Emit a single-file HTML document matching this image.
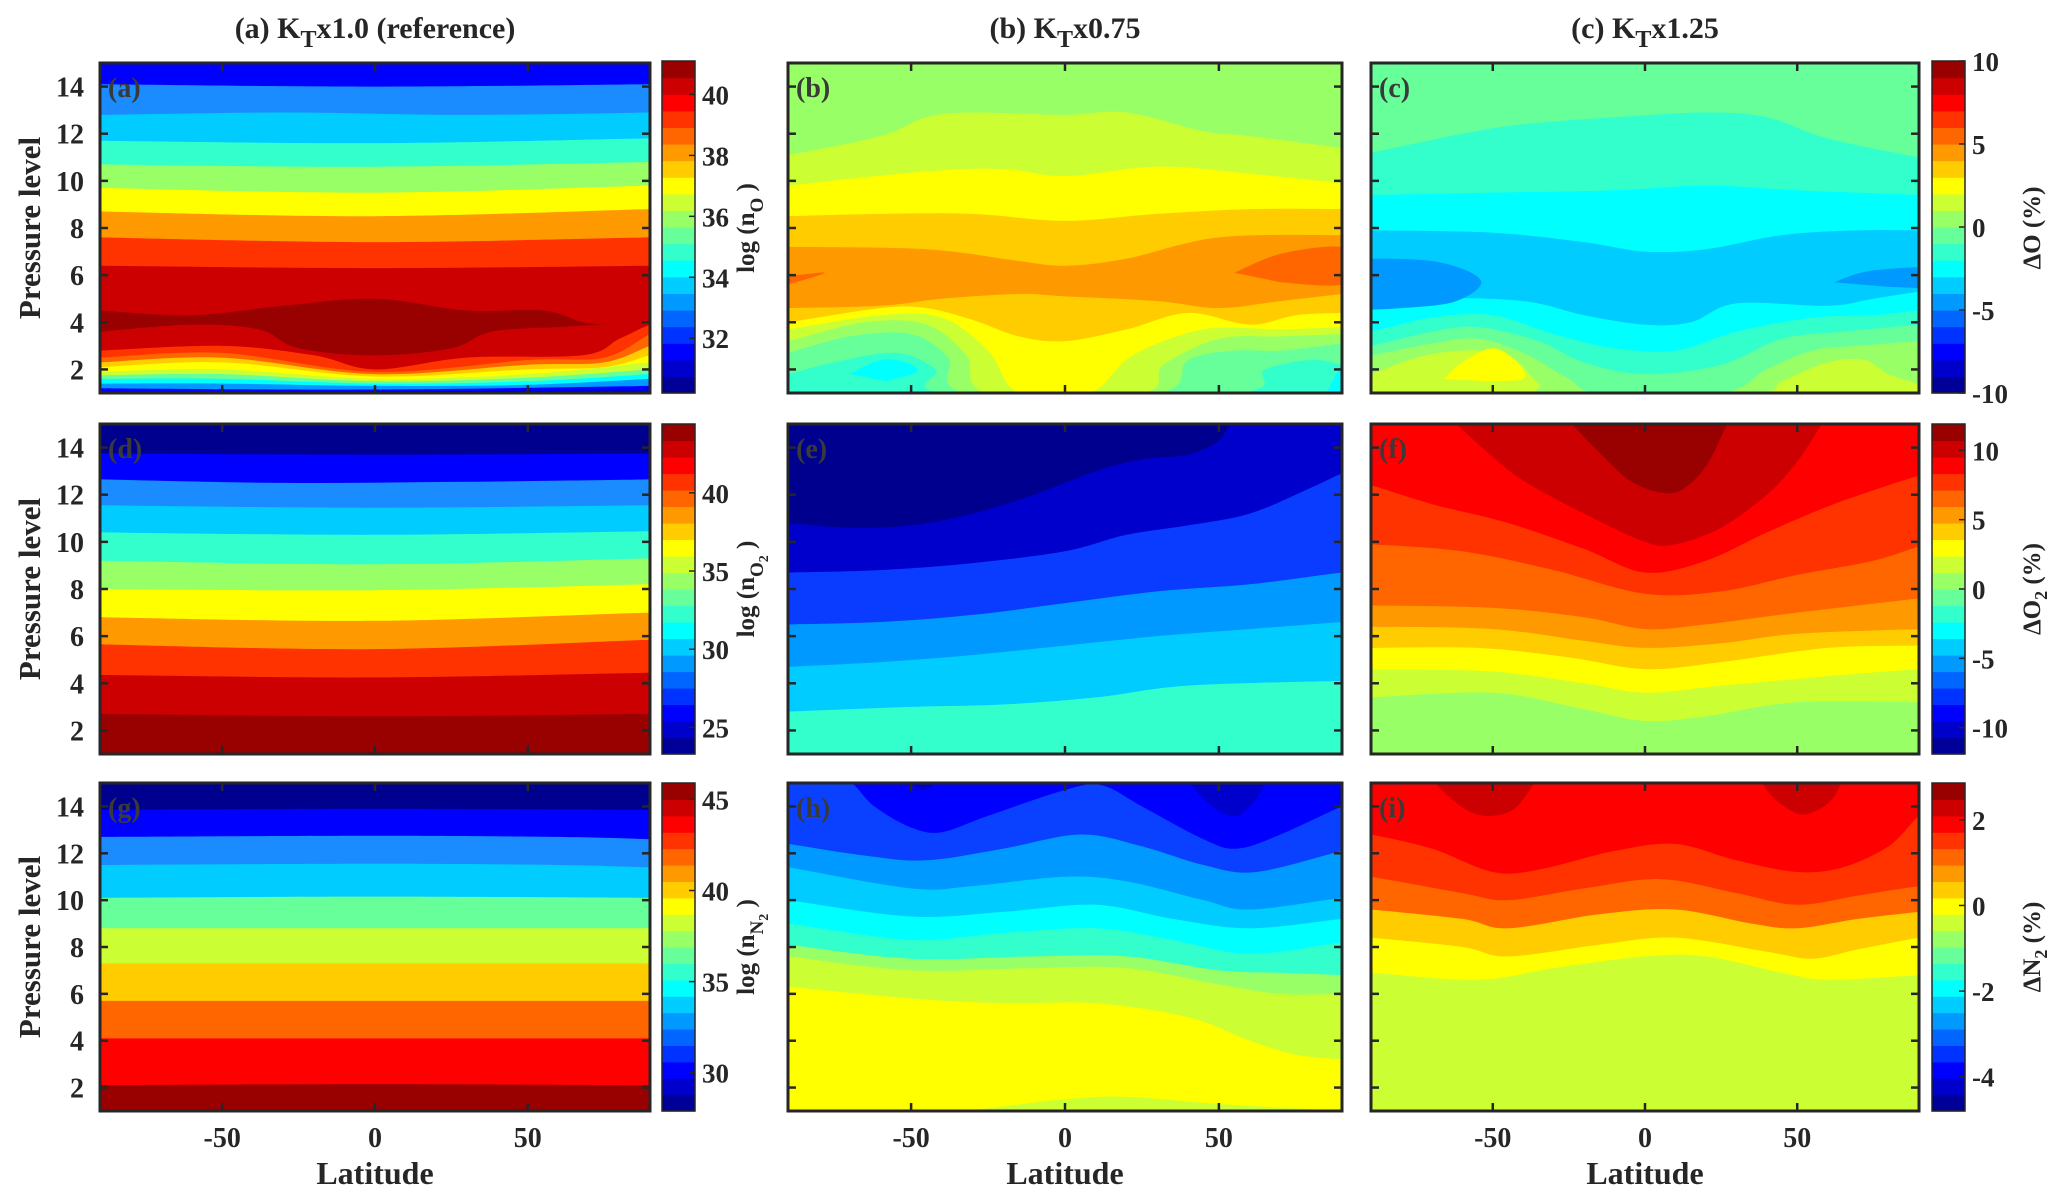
<!DOCTYPE html>
<html><head><meta charset="utf-8"><style>
html,body{margin:0;padding:0;background:#fff;}
svg{display:block;}
text{font-family:"Liberation Serif",serif;font-weight:bold;fill:#262626;}
</style></head><body>
<svg id="s" width="2067" height="1202" viewBox="0 0 2067 1202" xmlns="http://www.w3.org/2000/svg">
<defs id="defs"></defs>
<g id="plots"></g>
<g id="txt">
<text x="375" y="38" font-size="30" text-anchor="middle">(a) K<tspan dy="9" font-size="24">T</tspan><tspan dy="-9">x1.0 (reference)</tspan></text>
<text x="1065" y="38" font-size="30" text-anchor="middle">(b) K<tspan dy="9" font-size="24">T</tspan><tspan dy="-9">x0.75</tspan></text>
<text x="1645" y="38" font-size="30" text-anchor="middle">(c) K<tspan dy="9" font-size="24">T</tspan><tspan dy="-9">x1.25</tspan></text>
<text transform="translate(40,228) rotate(-90)" font-size="31" text-anchor="middle">Pressure level</text>
<text transform="translate(40,589) rotate(-90)" font-size="31" text-anchor="middle">Pressure level</text>
<text transform="translate(40,947) rotate(-90)" font-size="31" text-anchor="middle">Pressure level</text>
<text x="375" y="1184" font-size="32" text-anchor="middle">Latitude</text>
<text x="1065" y="1184" font-size="32" text-anchor="middle">Latitude</text>
<text x="1645" y="1184" font-size="32" text-anchor="middle">Latitude</text>
<text transform="translate(754,228) rotate(-90)" font-size="25" text-anchor="middle">log (n<tspan dy="9" font-size="19">O</tspan><tspan dy="-9"> )</tspan></text>
<text transform="translate(754,589) rotate(-90)" font-size="25" text-anchor="middle">log (n<tspan dy="9" font-size="19">O</tspan><tspan dy="5" font-size="14">2</tspan><tspan dy="-14"> )</tspan></text>
<text transform="translate(754,947) rotate(-90)" font-size="25" text-anchor="middle">log (n<tspan dy="9" font-size="19">N</tspan><tspan dy="5" font-size="14">2</tspan><tspan dy="-14"> )</tspan></text>
<text transform="translate(2040,228) rotate(-90)" font-size="25" text-anchor="middle">ΔO (%)</text>
<text transform="translate(2040,589) rotate(-90)" font-size="25" text-anchor="middle">ΔO<tspan dy="7" font-size="18">2</tspan><tspan dy="-7"> (%)</tspan></text>
<text transform="translate(2040,947) rotate(-90)" font-size="25" text-anchor="middle">ΔN<tspan dy="7" font-size="18">2</tspan><tspan dy="-7"> (%)</tspan></text>
</g>
</svg>
<script>
(function(){
var NS="http://www.w3.org/2000/svg";
var plots=document.getElementById('plots'),defs=document.getElementById('defs');
function el(n,a,p){var e=document.createElementNS(NS,n);for(var k in a)e.setAttribute(k,a[k]);(p||plots).appendChild(e);return e;}
var cols=[[100,650],[788,1342],[1371,1919]],rows=[[63,393],[424,754],[783,1111]];
function cr(pts){var d='M'+pts[0][0].toFixed(1)+','+pts[0][1].toFixed(1);
 for(var i=0;i<pts.length-1;i++){var p0=pts[i-1]||pts[i],p1=pts[i],p2=pts[i+1],p3=pts[i+2]||p2;
 d+=' C'+(p1[0]+(p2[0]-p0[0])/6).toFixed(1)+','+(p1[1]+(p2[1]-p0[1])/6).toFixed(1)+' '+(p2[0]-(p3[0]-p1[0])/6).toFixed(1)+','+(p2[1]-(p3[1]-p1[1])/6).toFixed(1)+' '+p2[0].toFixed(1)+','+p2[1].toFixed(1);}
 return d;}
var pid=0;
function panel(c,r,top,layers,blobs,label){
 var x0=cols[c][0],x1=cols[c][1],y0=rows[r][0],y1=rows[r][1];
 function X(l){return x0+(l+90)/180*(x1-x0);} function Y(p){return y1-(p-1)/14*(y1-y0);}
 var id='cp'+(pid++);var cp=el('clipPath',{id:id},defs);el('rect',{x:x0,y:y0,width:x1-x0,height:y1-y0},cp);
 var g=el('g',{'clip-path':'url(#'+id+')'});
 el('rect',{x:x0,y:y0,width:x1-x0,height:y1-y0,fill:top},g);
 layers.forEach(function(L){var pts=L[1].map(function(q){return [X(q[0]),Y(q[1])];});
  pts.unshift([x0-10,pts[0][1]]);pts.push([x1+10,pts[pts.length-1][1]]);
  el('path',{d:cr(pts)+' L'+(x1+10)+','+(y1+10)+' L'+(x0-10)+','+(y1+10)+' Z',fill:L[0]},g);});
 (blobs||[]).forEach(function(B){var pts=B[1].map(function(q){return [X(q[0]),Y(q[1])];});
  el('path',{d:cr(pts)+' Z',fill:B[0]},g);});
 el('rect',{x:x0,y:y0,width:x1-x0,height:y1-y0,fill:'none',stroke:'#262626','stroke-width':3});
 [-50,0,50].forEach(function(l){el('line',{x1:X(l),x2:X(l),y1:y0,y2:y0+8,stroke:'#262626','stroke-width':2.5});el('line',{x1:X(l),x2:X(l),y1:y1,y2:y1-8,stroke:'#262626','stroke-width':2.5});
  if(r==2){var t=el('text',{x:X(l),y:1147,'font-size':28,'text-anchor':'middle'});t.textContent=l==-50?'-50':String(l);}});
 for(var p=2;p<=14;p+=2){el('line',{x1:x0,x2:x0+8,y1:Y(p),y2:Y(p),stroke:'#262626','stroke-width':2.5});el('line',{x1:x1,x2:x1-8,y1:Y(p),y2:Y(p),stroke:'#262626','stroke-width':2.5});
  if(c==0){var t=el('text',{x:84,y:Y(p)+10,'font-size':28,'text-anchor':'end'});t.textContent=p;}}
 var t=el('text',{x:x0+8,y:y0+34,'font-size':28,style:'fill:#3a3a3a'});t.textContent=label;
}
function jet(t){function cl(v){return Math.max(0,Math.min(1,v));}
 return 'rgb('+Math.round(255*cl(1.5-Math.abs(4*t-3)))+','+Math.round(255*cl(1.5-Math.abs(4*t-2)))+','+Math.round(255*cl(1.5-Math.abs(4*t-1)))+')';}
function cbar(x,y0,y1,vmin,vmax,ticks){var n=20,h=(y1-y0)/n;
 for(var i=0;i<n;i++)el('rect',{x:x,y:y1-(i+1)*h,width:33,height:h+0.6,fill:jet((i+0.5)/n)});
 el('rect',{x:x,y:y0,width:33,height:y1-y0,fill:'none',stroke:'#262626','stroke-width':1.5});
 ticks.forEach(function(v){var y=y1-(v-vmin)/(vmax-vmin)*(y1-y0);el('line',{x1:x+27,x2:x+33,y1:y,y2:y,stroke:'#262626','stroke-width':1.5});
  var t=el('text',{x:x+40,y:y+10,'font-size':27});t.textContent=v;});}
panel(0,0,'#0000ff',[
['#1a8cff',[[-90,14.1],[0,14.0],[90,14.1]]],
['#00ccff',[[-90,12.8],[-30,12.9],[30,12.8],[90,12.9]]],
['#33ffcc',[[-90,11.7],[0,11.6],[90,11.8]]],
['#99ff66',[[-90,10.7],[0,10.6],[90,10.8]]],
['#ffff00',[[-90,9.7],[0,9.5],[90,9.8]]],
['#ff9900',[[-90,8.7],[0,8.5],[90,8.8]]],
['#ff3300',[[-90,7.6],[0,7.4],[90,7.6]]],
['#cc0000',[[-90,6.4],[0,6.3],[90,6.4]]],
['#990000',[[-90,4.5],[-60,4.3],[-30,4.7],[0,5.0],[30,4.5],[55,4.5],[68,4.0],[76,3.9],[90,3.9]]],
['#cc0000',[[-90,3.6],[-60,3.9],[-38,3.7],[-25,2.9],[0,2.6],[25,2.9],[38,3.6],[60,3.8],[76,3.9],[90,3.9]]],
['#ff3300',[[-90,2.8],[-50,3.0],[-20,2.6],[0,2.0],[30,2.5],[68,2.6],[80,3.3],[90,3.9]]],
['#ff6600',[[-90,2.5],[-50,2.7],[0,1.9],[50,2.4],[75,2.5],[90,3.5]]],
['#ffcc00',[[-90,2.3],[-50,2.5],[0,1.8],[50,2.2],[75,2.3],[90,3.0]]],
['#ffff00',[[-90,2.1],[-50,2.3],[0,1.7],[50,2.0],[75,2.1],[90,2.6]]],
['#ccff33',[[-90,1.9],[-50,2.0],[0,1.6],[50,1.8],[90,2.3]]],
['#66ff99',[[-90,1.75],[-50,1.8],[0,1.5],[50,1.65],[90,2.0]]],
['#00ffff',[[-90,1.6],[-50,1.6],[0,1.4],[50,1.5],[90,1.8]]],
['#0099ff',[[-90,1.4],[-50,1.4],[0,1.3],[50,1.35],[90,1.6]]],
['#0000ff',[[-90,1.2],[0,1.15],[90,1.3]]],
['#00008f',[[-90,1.05],[90,1.1]]]
],null,'(a)');
panel(1,0,'#99ff66',[
['#ccff33',[[-90,11.1],[-60,11.9],[-45,12.7],[-30,12.9],[0,12.8],[20,12.9],[45,12.1],[60,11.9],[90,11.4]]],
['#ffff00',[[-90,9.8],[-45,10.4],[-20,10.5],[0,10.2],[30,10.6],[60,10.3],[90,9.9]]],
['#ffcc00',[[-90,8.5],[-60,8.6],[-30,8.6],[0,8.3],[30,8.6],[60,8.8],[90,8.8]]],
['#ff9900',[[-90,7.2],[-45,7.1],[-15,6.6],[0,6.4],[20,6.7],[50,7.6],[90,7.7]]],
['#ffcc00',[[-90,4.6],[-60,4.7],[-40,5.0],[-15,5.2],[0,5.1],[30,4.9],[50,4.6],[70,4.9],[90,5.2]]],
['#ffff00',[[-90,4.0],[-60,4.6],[-45,4.6],[-30,4.1],[-15,3.4],[0,3.2],[20,3.7],[40,4.4],[60,3.9],[75,4.3],[90,4.4]]],
['#ccff33',[[-90,3.7],[-60,4.3],[-40,4.2],[-25,2.8],[-15,1.0],[8,1.0],[22,2.6],[45,3.7],[70,3.7],[90,3.8]]],
['#99ff66',[[-90,3.2],[-65,4.0],[-45,3.9],[-32,2.6],[-25,1.0],[25,1.0],[32,2.2],[50,3.3],[70,3.4],[90,3.5]]],
['#66ff99',[[-90,2.7],[-70,3.4],[-50,3.5],[-38,2.5],[-32,1.0],[30,1.0],[40,2.4],[55,2.8],[70,2.8],[90,3.1]]],
['#33ffcc',[[-90,1.8],[-75,2.3],[-55,2.7],[-42,2.0],[-38,1.0],[55,1.0],[65,2.0],[80,2.4],[90,2.2]]]
],[
['#ff6600',[[55,6.1],[70,6.9],[90,7.2],[100,6.5],[90,5.6],[70,5.7]]],
['#ff6600',[[-100,6.3],[-90,6.0],[-78,6.1],[-90,5.6]]],
['#00ffff',[[-70,1.8],[-60,2.4],[-52,2.3],[-48,1.9],[-58,1.5]]],
['#00ffff',[[85,1.0],[92,2.5],[95,1.0]]]
],'(b)');
panel(2,0,'#66ff99',[
['#33ffcc',[[-90,11.2],[-60,12.0],[-40,12.4],[-10,12.7],[20,12.9],[40,12.7],[60,11.8],[90,11.0]]],
['#00ffff',[[-90,9.4],[-50,9.5],[-10,9.6],[20,9.8],[50,9.6],[90,9.4]]],
['#00ccff',[[-90,7.9],[-50,7.8],[-20,7.4],[0,7.0],[20,7.1],[45,7.7],[70,7.9],[90,7.9]]],
['#00ffff',[[-90,4.6],[-70,5.0],[-40,4.9],[-20,4.3],[0,3.9],[15,4.0],[30,4.8],[60,4.7],[75,5.0],[90,5.3]]],
['#33ffcc',[[-90,3.6],[-70,4.2],[-50,4.3],[-30,3.5],[-10,2.9],[10,2.8],[30,3.6],[55,4.2],[75,4.3],[90,4.5]]],
['#66ff99',[[-90,3.0],[-70,3.6],[-55,3.8],[-35,3.2],[-20,2.3],[0,1.8],[25,2.2],[45,3.3],[65,3.6],[90,3.9]]],
['#99ff66',[[-90,2.6],[-70,3.1],[-55,3.3],[-40,2.7],[-25,1.6],[-15,1.0],[25,1.0],[40,2.0],[55,2.8],[70,3.0],[90,3.2]]],
['#ccff33',[[-90,1.8],[-75,2.5],[-60,2.8],[-45,2.6],[-35,1.4],[-30,1.0],[35,1.0],[45,1.5],[60,2.3],[72,2.4],[80,1.8],[90,1.4]]]
],[
['#0099ff',[[-100,6.7],[-70,6.6],[-54,5.8],[-62,4.9],[-80,4.6],[-100,4.5]]],
['#0099ff',[[62,5.7],[75,6.2],[100,6.3],[100,5.5],[80,5.5]]],
['#ffff00',[[-66,1.6],[-60,2.3],[-50,2.9],[-42,2.3],[-40,1.6],[-52,1.5]]]
],'(c)');
panel(0,1,'#00008f',[
['#0000ff',[[-90,13.75],[0,13.7],[90,13.75]]],
['#1a8cff',[[-90,12.65],[-30,12.5],[30,12.55],[90,12.65]]],
['#00ccff',[[-90,11.55],[0,11.45],[90,11.55]]],
['#33ffcc',[[-90,10.4],[0,10.3],[90,10.45]]],
['#99ff66',[[-90,9.2],[0,9.05],[90,9.3]]],
['#ffff00',[[-90,8.0],[0,7.95],[90,8.2]]],
['#ff9900',[[-90,6.8],[0,6.65],[90,7.0]]],
['#ff3300',[[-90,5.65],[0,5.45],[90,5.85]]],
['#cc0000',[[-90,4.35],[0,4.25],[90,4.45]]],
['#990000',[[-90,2.7],[0,2.6],[90,2.7]]]
],null,'(d)');
panel(1,1,'#00008f',[
['#0000cc',[[-90,10.8],[-70,10.6],[-50,10.7],[-30,11.2],[-10,12.0],[10,13.0],[25,13.5],[40,13.7],[50,14.3],[56,15.3],[70,15.6],[90,15.6]]],
['#0a3cff',[[-90,8.7],[-60,8.8],[-30,9.1],[0,9.6],[20,10.3],[40,10.7],[60,11.2],[80,12.3],[90,12.9]]],
['#0099ff',[[-90,6.5],[-60,6.6],[-30,6.9],[0,7.4],[30,7.9],[60,8.2],[90,8.7]]],
['#00ccff',[[-90,4.7],[-60,4.9],[-30,5.2],[0,5.6],[30,6.0],[60,6.3],[90,6.6]]],
['#33ffcc',[[-90,2.8],[-50,3.0],[-20,3.1],[10,3.4],[40,3.9],[90,4.1]]]
],null,'(e)');
panel(2,1,'#ff0000',[
['#ff3300',[[-90,12.4],[-70,11.6],[-45,10.8],[-20,9.7],[0,8.7],[20,9.2],[40,10.4],[60,11.5],[80,12.4],[90,12.8]]],
['#ff6600',[[-90,9.9],[-60,9.6],[-30,8.8],[0,7.8],[25,7.9],[50,8.6],[75,9.2],[90,9.8]]],
['#ff9900',[[-90,7.3],[-50,7.2],[-20,6.8],[0,6.3],[20,6.5],[50,7.0],[90,7.6]]],
['#ffcc00',[[-90,6.4],[-50,6.3],[-20,5.8],[0,5.5],[25,5.7],[50,6.1],[90,6.3]]],
['#ffff00',[[-90,5.5],[-55,5.5],[-25,5.1],[0,4.6],[25,4.9],[60,5.5],[90,5.6]]],
['#ccff33',[[-90,4.6],[-50,4.5],[-20,4.0],[0,3.6],[25,3.9],[60,4.3],[90,4.6]]],
['#99ff66',[[-90,3.4],[-50,3.6],[-20,2.9],[0,2.4],[20,2.6],[50,3.2],[90,3.2]]]
],[
['#cc0000',[[-66,15.5],[-62,15],[-50,13.6],[-40,12.6],[-20,11.2],[0,10.0],[10,9.9],[25,10.6],[40,12.0],[50,13.4],[58,15],[60,15.5]]],
['#990000',[[-27,15.5],[-24,15],[-15,13.8],[-5,12.6],[5,12.1],[12,12.2],[20,13.2],[27,15],[29,15.5]]]
],'(f)');
panel(0,2,'#00008f',[
['#0000ff',[[-90,13.85],[0,13.9],[90,13.85]]],
['#1a8cff',[[-90,12.7],[0,12.75],[60,12.7],[90,12.6]]],
['#00ccff',[[-90,11.5],[0,11.55],[60,11.5],[90,11.4]]],
['#66ff99',[[-90,10.1],[0,10.15],[90,10.1]]],
['#ccff33',[[-90,8.8],[90,8.8]]],
['#ffcc00',[[-90,7.3],[90,7.3]]],
['#ff6600',[[-90,5.7],[90,5.7]]],
['#ff0000',[[-90,4.1],[90,4.1]]],
['#990000',[[-90,2.1],[0,2.15],[90,2.1]]]
],null,'(g)');
panel(1,2,'#0000ff',[
['#0a40ff',[[-90,15.3],[-72,15.2],[-62,14.0],[-50,13.1],[-40,12.9],[-25,13.6],[0,14.7],[12,14.9],[25,14.0],[45,12.6],[56,12.2],[70,12.8],[90,14.0]]],
['#0099ff',[[-90,12.4],[-65,11.9],[-45,11.7],[-20,12.2],[5,12.8],[25,12.3],[45,11.5],[62,11.2],[90,12.1]]],
['#00ccff',[[-90,11.4],[-50,10.5],[-30,10.6],[0,11.0],[20,10.8],[45,10.0],[60,9.6],[90,10.1]]],
['#00ffff',[[-90,10.0],[-50,9.3],[-20,9.5],[10,9.8],[35,9.2],[60,8.8],[90,9.2]]],
['#33ffcc',[[-90,9.0],[-50,8.3],[-20,8.6],[10,8.8],[35,8.3],[60,7.7],[90,8.2]]],
['#99ff66',[[-90,8.1],[-50,7.5],[-10,7.6],[20,7.6],[50,7.0],[70,6.9],[90,6.8]]],
['#ccff33',[[-90,7.6],[-50,7.0],[-10,7.1],[20,7.1],[50,6.4],[70,6.0],[90,6.0]]],
['#ffff00',[[-90,6.3],[-50,5.8],[-20,5.6],[10,5.6],[40,5.0],[60,4.0],[75,3.4],[90,3.2]]],
['#ccff33',[[-90,0.9],[-50,0.9],[-30,1.05],[0,1.5],[20,1.6],[50,1.3],[90,1.0]]]
],[
['#0000cc',[[38,15.5],[43,14.6],[50,13.8],[56,13.6],[62,14.3],[67,15.5]]],
['#0000cc',[[-52,15.5],[-48,14.8],[-44,14.8],[-40,15.5]]]
],'(h)');
panel(2,2,'#ff0000',[
['#ff3300',[[-90,12.8],[-70,12.2],[-50,11.2],[-35,11.3],[-10,12.1],[10,12.4],[30,11.7],[50,11.2],[65,11.4],[80,12.3],[90,13.6]]],
['#ff6600',[[-90,11.0],[-60,10.3],[-45,10.0],[-20,10.5],[5,10.9],[30,10.3],[50,9.8],[70,10.2],[90,10.6]]],
['#ffcc00',[[-90,9.6],[-60,9.2],[-45,8.8],[-15,9.4],[10,9.6],[35,9.0],[50,8.8],[70,9.2],[90,9.5]]],
['#ffff00',[[-90,8.4],[-60,8.0],[-45,7.6],[-15,8.1],[10,8.4],[40,7.8],[55,7.5],[70,7.9],[90,8.4]]],
['#ccff33',[[-90,6.9],[-55,6.6],[-30,7.1],[0,7.6],[20,7.6],[45,6.9],[60,6.6],[90,6.8]]]
],[
['#cc0000',[[-72,15.5],[-66,14.6],[-58,13.8],[-50,13.6],[-42,14.0],[-34,15.5]]],
['#cc0000',[[36,15.5],[42,14.4],[50,13.7],[56,13.8],[62,14.4],[66,15.5]]]
],'(i)');
cbar(662,61,393,30.2,41.1,[32,34,36,38,40]);
cbar(1932,61,393,-10,10,[-10,-5,0,5,10]);
cbar(662,424,754,23.3,44.4,[25,30,35,40]);
cbar(1932,424,754,-11.9,11.9,[-10,-5,0,5,10]);
cbar(662,783,1111,27.9,45.9,[30,35,40,45]);
cbar(1932,783,1111,-4.8,2.86,[-4,-2,0,2]);
})();
</script>
</body></html>
